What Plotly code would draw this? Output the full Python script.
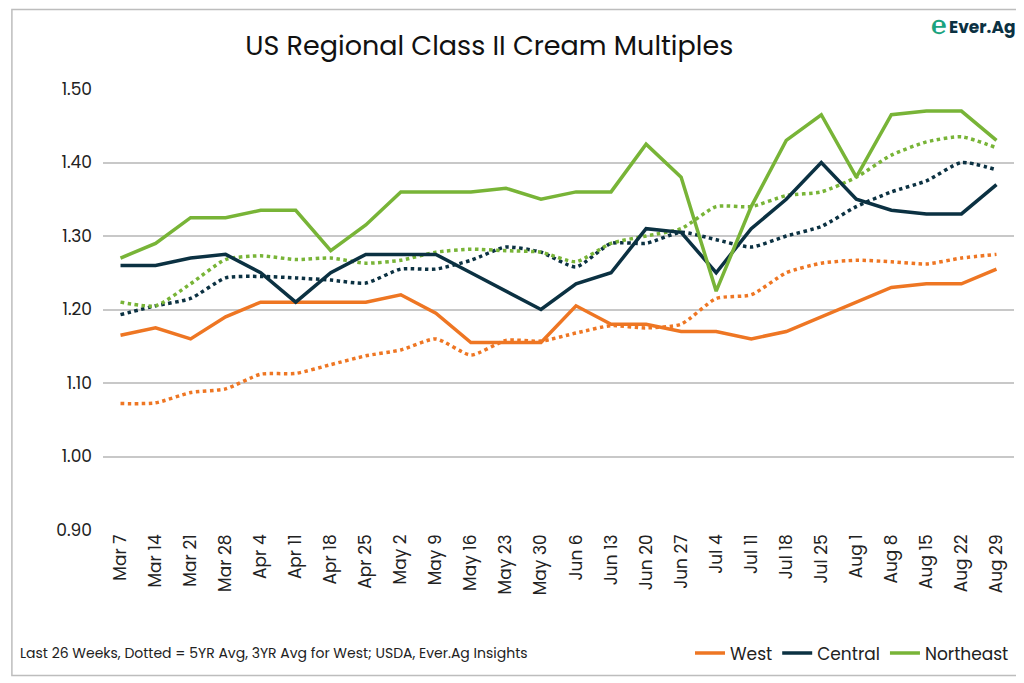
import plotly.graph_objects as go

weeks = ["Mar 7","Mar 14","Mar 21","Mar 28","Apr 4","Apr 11","Apr 18","Apr 25","May 2","May 9","May 16","May 23","May 30",
         "Jun 6","Jun 13","Jun 20","Jun 27","Jul 4","Jul 11","Jul 18","Jul 25","Aug 1","Aug 8","Aug 15","Aug 22","Aug 29"]
west = [1.165,1.175,1.16,1.19,1.21,1.21,1.21,1.21,1.22,1.195,1.155,1.155,1.155,1.205,1.18,1.18,1.17,1.17,1.16,1.17,1.19,1.21,1.23,1.235,1.235,1.255]
central = [1.26,1.26,1.27,1.275,1.25,1.21,1.25,1.275,1.275,1.275,1.25,1.225,1.20,1.235,1.25,1.31,1.305,1.25,1.31,1.35,1.40,1.35,1.335,1.33,1.33,1.37]
northeast = [1.27,1.29,1.325,1.325,1.335,1.335,1.28,1.315,1.36,1.36,1.36,1.365,1.35,1.36,1.36,1.425,1.38,1.225,1.34,1.43,1.465,1.38,1.465,1.47,1.47,1.43]
west_avg = [1.072,1.073,1.087,1.092,1.112,1.113,1.125,1.137,1.145,1.16,1.138,1.158,1.157,1.168,1.178,1.175,1.18,1.215,1.22,1.25,1.263,1.267,1.265,1.262,1.27,1.275]
central_avg = [1.193,1.205,1.215,1.243,1.245,1.243,1.24,1.236,1.255,1.255,1.267,1.285,1.278,1.258,1.29,1.29,1.305,1.295,1.285,1.30,1.313,1.34,1.36,1.375,1.40,1.39]
ne_avg = [1.21,1.205,1.235,1.268,1.273,1.268,1.27,1.263,1.267,1.278,1.282,1.28,1.278,1.265,1.29,1.30,1.31,1.34,1.34,1.355,1.36,1.38,1.41,1.428,1.435,1.42]

ORANGE, NAVY, GREEN = "#EE7623", "#0B3142", "#78B437"
fig = go.Figure()
for y, c in [(west_avg, ORANGE), (central_avg, NAVY), (ne_avg, GREEN)]:
    fig.add_trace(go.Scatter(x=weeks, y=y, mode="lines", line=dict(color=c, width=3.5, dash="dot", shape="spline", smoothing=0.6),
                             showlegend=False, hoverinfo="skip"))
for y, c, n in [(west, ORANGE, "West"), (central, NAVY, "Central"), (northeast, GREEN, "Northeast")]:
    fig.add_trace(go.Scatter(x=weeks, y=y, mode="lines", name=n, line=dict(color=c, width=3.5)))

fig.update_layout(
    width=1024, height=683, plot_bgcolor="white", paper_bgcolor="white",
    font=dict(family="Poppins, Lato, sans-serif", color="#222"),
    margin=dict(l=95, r=18, t=81, b=161, autoexpand=False),
    title=dict(text="US Regional Class II Cream Multiples", x=0.47, y=0.945, xanchor="center", yanchor="middle",
               font=dict(size=27, color="#111")),
    xaxis=dict(tickangle=-90, tickfont=dict(size=17), showgrid=False, showline=False, ticks="",
               range=[-0.5, 25.5], automargin=False),
    yaxis=dict(range=[0.9, 1.5], dtick=0.1, tickformat=".2f", tickfont=dict(size=17), automargin=False,
               gridcolor="#C8C8C8", gridwidth=1.5, zeroline=False, ticks="", ticklabelstandoff=10),
    legend=dict(orientation="h", x=1.0, xanchor="right", y=-0.28, yanchor="middle",
                font=dict(size=17), traceorder="normal"),
    shapes=[dict(type="rect", xref="paper", yref="paper", x0=-0.1, x1=1.013, y0=-0.33, y1=1.18,
                 line=dict(color="#BDBDBD", width=1.5))],
    annotations=[
        dict(text="Last 26 Weeks, Dotted = 5YR Avg, 3YR Avg for West; USDA, Ever.Ag Insights", xref="paper", yref="paper",
             x=-0.093, y=-0.28, xanchor="left", yanchor="middle", showarrow=False, font=dict(size=14, color="#222")),
        dict(text="<b>Ever.Ag</b>", xref="paper", yref="paper", x=1.003, y=1.14, xanchor="right", yanchor="middle",
             showarrow=False, font=dict(size=17, color="#0B3142")),
        dict(text="<b>℮</b>", xref="paper", yref="paper", x=0.928, y=1.14, xanchor="right", yanchor="middle",
             showarrow=False, font=dict(size=20, color="#1BA37F")),
    ],
)
fig.write_html("out.html")
